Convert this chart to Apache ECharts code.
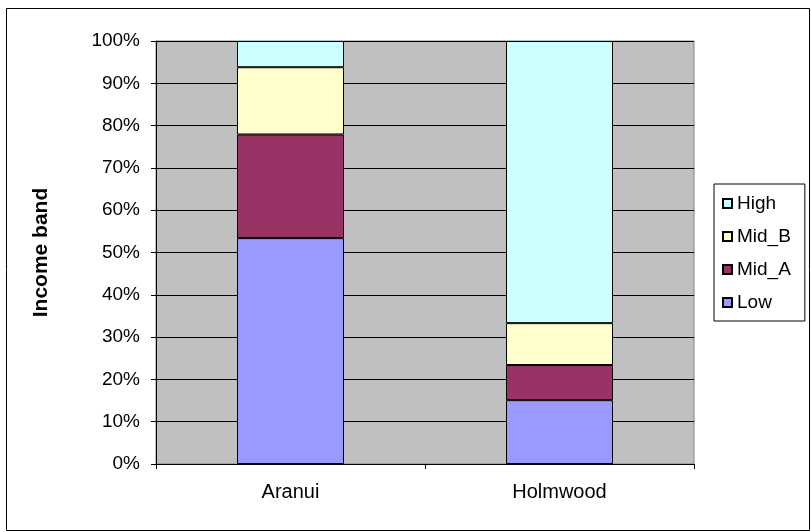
<!DOCTYPE html>
<html>
<head>
<meta charset="utf-8">
<script src="https://cdn.jsdelivr.net/npm/echarts@6/dist/echarts.min.js"></script>
<style>
    html, body { margin: 0; padding: 0; background: #fff; }
    #chart { width: 811px; height: 532px; }
</style>
</head>
<body>
<div id="chart"></div>
<script>
var categories = ['Aranui', 'Holmwood'];
var low = [53.4, 15.1];
var midA = [24.5, 8.3];
var midB = [15.9, 9.9];
var high = [6.2, 66.7];
var legendOrder = ['High', 'Mid_B', 'Mid_A', 'Low'];

var myChart = echarts.init(document.getElementById('chart'));

function bar(name, data, color) {
    return {
        name: name,
        type: 'bar',
        stack: 'band',
        data: data,
        barWidth: 107,
        itemStyle: { color: color, borderColor: '#000', borderWidth: 1 }
    };
}

var option = {
    backgroundColor: '#fff',
    animation: false,
    textStyle: { fontFamily: 'Liberation Sans, Arial, sans-serif', color: '#000' },
    grid: {
        left: 156, top: 41, width: 538, height: 423,
        show: true, backgroundColor: '#C0C0C0', borderColor: '#808080', borderWidth: 1
    },
    // chart outline
    graphic: [{
        type: 'rect',
        shape: { x: 6.5, y: 8.5, width: 803, height: 522 },
        style: { fill: 'none', stroke: '#000', lineWidth: 1 },
        silent: true
    }],
    legend: {
        data: legendOrder,
        orient: 'vertical',
        left: 714,
        top: 184,
        itemWidth: 9,
        itemHeight: 9,
        itemGap: 14,
        icon: 'rect',
        padding: [10, 14, 9, 8],
        backgroundColor: '#fff',
        borderColor: '#000',
        borderWidth: 1,
        borderRadius: 0,
        textStyle: { fontSize: 19, color: '#000', fontFamily: 'Liberation Sans, Arial, sans-serif' }
    },
    xAxis: {
        type: 'category',
        data: categories,
        axisLine: { lineStyle: { color: '#000', width: 1 } },
        axisTick: { show: true, length: 5, lineStyle: { color: '#000' } },
        axisLabel: { fontSize: 20, color: '#000', margin: 18 }
    },
    yAxis: {
        type: 'value',
        min: 0,
        max: 100,
        interval: 10,
        name: 'Income band',
        nameLocation: 'middle',
        nameRotate: 90,
        nameGap: 104,
        nameTextStyle: { fontSize: 21, fontWeight: 'bold', color: '#000' },
        axisLine: { show: true, lineStyle: { color: '#000', width: 1 } },
        axisTick: { show: true, length: 5, lineStyle: { color: '#000' } },
        axisLabel: { fontSize: 19, color: '#000', margin: 16, formatter: '{value}%' },
        splitLine: { show: true, lineStyle: { color: '#000', width: 1 } }
    },
    series: [
        bar('Low', low, '#9999FF'),
        bar('Mid_A', midA, '#993366'),
        bar('Mid_B', midB, '#FFFFCC'),
        bar('High', high, '#CCFFFF')
    ]
};
myChart.setOption(option);
</script>
</body>
</html>
